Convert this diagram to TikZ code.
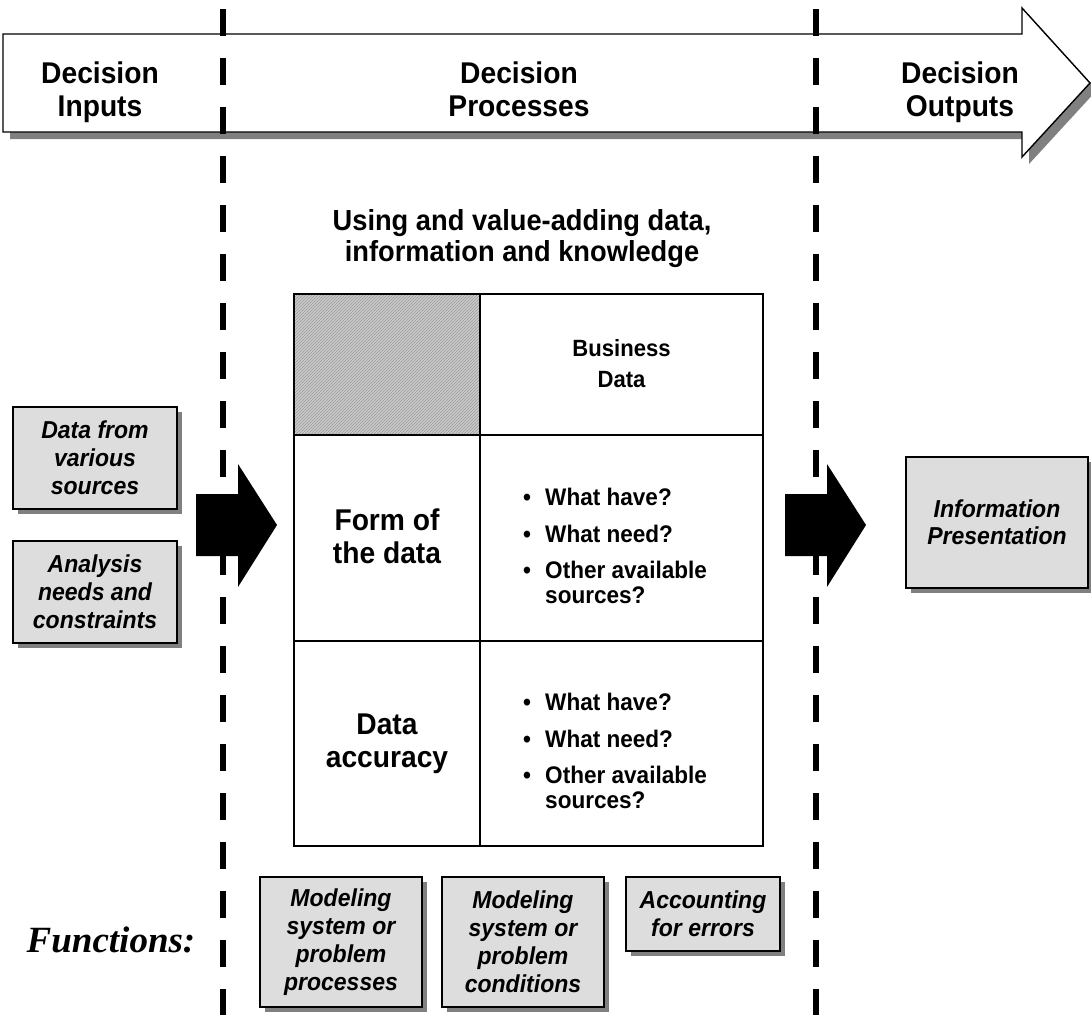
\documentclass[tikz,border=0pt]{standalone}
\usepackage{fontspec}
\setmainfont{Liberation Sans}[FakeStretch=0.94]
\newfontfamily\timesbi{Liberation Serif}
\usetikzlibrary{shadows,patterns}
\definecolor{boxgray}{HTML}{DDDDDD}
\definecolor{shadowgray}{HTML}{808080}
\definecolor{hatchbg}{HTML}{CCCCCC}
\begin{document}
\begin{tikzpicture}[x=1pt,y=-1pt,
  gbox/.style={draw=black, line width=1.6pt, fill=boxgray, align=center, inner sep=0pt,
    font=\bfseries\itshape\fontsize{24.5}{28}\selectfont,
    drop shadow={shadow xshift=5pt, shadow yshift=-5pt, fill=shadowgray, opacity=1}},
  hdr/.style={anchor=north, align=center, inner sep=0pt, font=\bfseries\fontsize{30}{33}\selectfont},
  rowlbl/.style={anchor=north, align=center, inner sep=0pt, font=\bfseries\fontsize{30}{33}\selectfont},
  celltxt/.style={anchor=north, align=center, inner sep=0pt, font=\bfseries\fontsize{23.5}{31}\selectfont},
  bullets/.style={anchor=west, inner sep=0pt, font=\bfseries\fontsize{24}{25}\selectfont},
  blockarrow/.style={fill=black},
  divider/.style={line width=6.5pt, dash pattern=on 27pt off 22pt, dash phase=40pt}
]
\useasboundingbox (0,0) rectangle (1091,1015);
\fill[white] (0,0) rectangle (1091,1015);

% big process arrow
\fill[shadowgray, shift={(7,7)}] (3,34) -- (1022,34) -- (1022,8) -- (1090,83) -- (1022,157) -- (1022,132) -- (3,132) -- cycle;
\draw[fill=white, line width=1.4pt] (3,34) -- (1022,34) -- (1022,8) -- (1090,83) -- (1022,157) -- (1022,132) -- (3,132) -- cycle;
\node[hdr] (hin) at (100,62) {Decision\\Inputs};
\node[hdr] (hproc) at (519,62) {Decision\\Processes};
\node[hdr] (hout) at (960,62) {Decision\\Outputs};

% heading
\node[anchor=north, align=center, inner sep=0pt, font=\bfseries\fontsize{29}{31}\selectfont] (title) at (522,209)
  {Using and value-adding data,\\information and knowledge};

% table
\fill[hatchbg] (294,294) rectangle (480,435);
\fill[pattern=north east lines, pattern color=gray!80] (294,294) rectangle (480,435);
\draw[line width=1.5pt] (480,294) -- (480,846);
\draw[line width=1.5pt] (294,435) -- (763,435);
\draw[line width=1.5pt] (294,641) -- (763,641);
\draw[line width=2.2pt] (294,294) rectangle (763,846);

\node[celltxt] (bd) at (621.5,339) {Business\\Data};
\node[rowlbl] (fd) at (387,509) {Form of\\the data};
\node[rowlbl] (da) at (387,714) {Data\\accuracy};
\node[bullets] (bl1) at (523,549) {\begin{tabular}{@{}p{22pt}@{}l@{}}
  \textbullet & What have?\\[12pt]
  \textbullet & What need?\\[11pt]
  \textbullet & Other available\\
  & sources?
\end{tabular}};
\node[bullets] (bl2) at (523,754) {\begin{tabular}{@{}p{22pt}@{}l@{}}
  \textbullet & What have?\\[12pt]
  \textbullet & What need?\\[11pt]
  \textbullet & Other available\\
  & sources?
\end{tabular}};

% input boxes
\node[gbox, minimum width=164pt, minimum height=102pt] (in1) at (95,458) {Data from\\various\\sources};
\node[gbox, minimum width=164pt, minimum height=102pt] (in2) at (95,592) {Analysis\\needs and\\constraints};

% output box
\node[gbox, minimum width=182pt, minimum height=131pt, font=\bfseries\itshape\fontsize{24.5}{27}\selectfont] (outp) at (997,522.5) {Information\\Presentation};

% function boxes
\node[font=\timesbi\bfseries\itshape\fontsize{37}{40}\selectfont, inner sep=0pt] (fn) at (111,940) {Functions:};
\node[gbox, minimum width=162pt, minimum height=130pt] (f1) at (341,942) {Modeling\\system or\\problem\\processes};
\node[gbox, minimum width=162pt, minimum height=130pt] (f2) at (523,942) {Modeling\\system or\\problem\\conditions};
\node[gbox, minimum width=154pt, minimum height=74pt] (f3) at (703,914) {Accounting\\for errors};

% block arrows
\fill[blockarrow] (196,494) -- (238,494) -- (238,464) -- (277,525) -- (238,587) -- (238,556) -- (196,556) -- cycle;
\fill[blockarrow] (785,494) -- (827,494) -- (827,464) -- (866,525) -- (827,587) -- (827,556) -- (785,556) -- cycle;

% stage dividers
\coordinate (d1t) at (223,0); \coordinate (d1b) at (223,1015);
\coordinate (d2t) at (816,0); \coordinate (d2b) at (816,1015);
\draw[divider] (d1t) -- (d1b);
\draw[divider] (d2t) -- (d2b);
\end{tikzpicture}
\end{document}
